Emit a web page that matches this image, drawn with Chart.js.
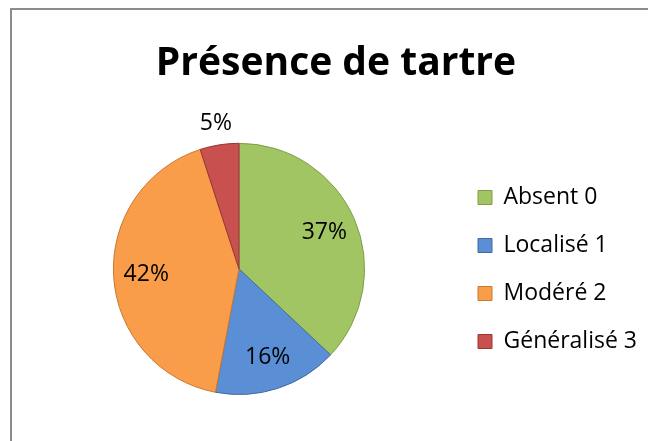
<!DOCTYPE html>
<html>
<head>
<meta charset="utf-8">
<script src="https://cdn.jsdelivr.net/npm/chart.js@4.4.1/dist/chart.umd.min.js"></script>
<style>
  html, body { margin: 0; padding: 0; background: #fff; overflow: hidden; }
  #frame { position: absolute; left: 10px; top: 8px; width: 720px; height: 520px; border: 2px solid #8c8c8c; }
  #c { position: absolute; left: 0; top: 0; }
</style>
</head>
<body>
<div id="frame"></div>
<canvas id="c" width="648" height="441"></canvas>
<script>
// -------------------- DATA --------------------
const categories = ["Absent 0", "Localisé 1", "Modéré 2", "Généralisé 3"];
const values = [37, 16, 42, 5];
const colors = ["#A2C563", "#5A8FD6", "#F99D4A", "#C8504E"];
const borders = ["#7E9E47", "#41699E", "#C8782F", "#983634"];

const fontFamily = '"Open Sans", "DejaVu Sans", sans-serif';
const labelSize = 23;
const boxSize = 14;
const legendPad = 25;

// legend width -> right padding so the boxes sit at x=478
let meas = document.createElement("canvas").getContext("2d");
meas.font = labelSize + "px " + fontFamily;
let widest = 0;
categories.forEach(c => { widest = Math.max(widest, meas.measureText(c).width); });
let itemW = boxSize + labelSize / 2 + widest;
let padRight = Math.max(0, 160 - itemW);

// -------------------- LABELS --------------------
const pctLabels = {
  id: "pctLabels",
  afterDatasetsDraw(chart) {
    const ctx = chart.ctx;
    const meta = chart.getDatasetMeta(0);
    const total = values.reduce((a, b) => a + b, 0);
    ctx.save();
    ctx.font = labelSize + "px " + fontFamily;
    ctx.fillStyle = "#000";
    ctx.textAlign = "center";
    ctx.textBaseline = "middle";
    meta.data.forEach((arc, i) => {
      let p = arc.getProps(["x", "y", "startAngle", "endAngle", "outerRadius"], true);
      let mid = (p.startAngle + p.endAngle) / 2;
      let share = values[i] / total;
      let d = share < 0.1 ? p.outerRadius + 22 : p.outerRadius * 0.74;
      let x = p.x + Math.cos(mid) * d;
      let y = p.y + Math.sin(mid) * d;
      ctx.fillText(Math.round(share * 100) + "%", x, y);
    });
    ctx.restore();
  }
};

// -------------------- CHART --------------------
new Chart(document.getElementById("c"), {
  type: "pie",
  data: {
    labels: categories,
    datasets: [{
      data: values,
      backgroundColor: colors,
      borderColor: borders,
      borderWidth: 1,
      hoverOffset: 0
    }]
  },
  options: {
    responsive: false,
    animation: false,
    layout: { padding: { left: legendPad, right: padRight, top: 0, bottom: 46 } },
    plugins: {
      title: {
        display: true,
        text: "Présence de tartre",
        color: "#000",
        font: { family: fontFamily, size: 39, weight: "bold" },
        padding: { top: 40, bottom: 56 }
      },
      legend: {
        position: "right",
        // empty legend title only pushes the items down to the pie's middle
        title: { display: true, text: "", font: { size: 10 }, padding: { top: 132, bottom: 0 } },
        labels: {
          color: "#000",
          font: { family: fontFamily, size: labelSize },
          boxWidth: boxSize,
          boxHeight: boxSize,
          padding: legendPad
        }
      },
      tooltip: { enabled: false }
    }
  },
  plugins: [pctLabels]
});
</script>
</body>
</html>
